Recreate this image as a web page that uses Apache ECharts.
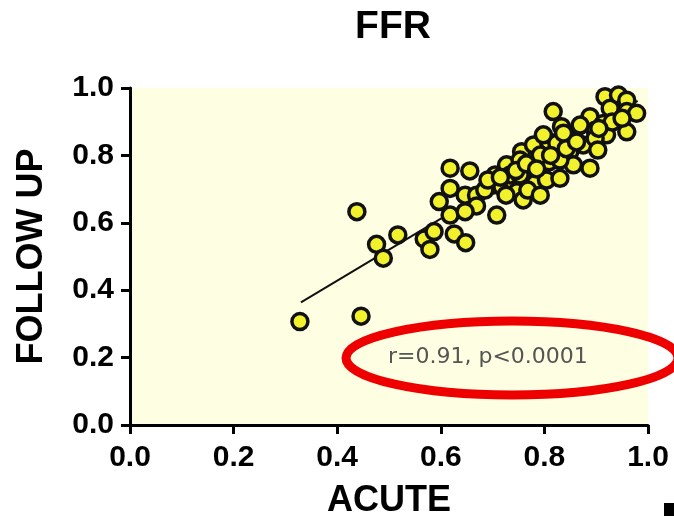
<!DOCTYPE html>
<html>
<head>
<meta charset="utf-8">
<script src="https://cdn.jsdelivr.net/npm/echarts@6/dist/echarts.min.js"></script>
<style>
  html, body { margin: 0; padding: 0; background: #fff; }
  #chart { width: 674px; height: 516px; }
</style>
</head>
<body>
<div id="chart"></div>
<script>
// acute FFR vs follow-up FFR
const acute = [
  0.328, 0.446, 0.438, 0.476, 0.489, 0.517, 0.568, 0.579, 0.587, 0.626,
  0.648, 0.618, 0.656, 0.618, 0.597, 0.647, 0.669, 0.669, 0.618, 0.647,
  0.708, 0.705, 0.727, 0.701, 0.718, 0.740, 0.747, 0.759, 0.756, 0.779,
  0.775, 0.782, 0.804, 0.808, 0.809, 0.830, 0.817, 0.833, 0.824, 0.846,
  0.849, 0.856, 0.888, 0.875, 0.888, 0.898, 0.914, 0.917, 0.927, 0.943,
  0.959, 0.959, 0.978, 0.959, 0.920, 0.898, 0.798, 0.837, 0.792, 0.753,
  0.734, 0.753, 0.768, 0.792, 0.726, 0.869, 0.903, 0.830, 0.931, 0.685,
  0.691, 0.715, 0.745, 0.765, 0.785, 0.812, 0.842, 0.862, 0.905, 0.950
];
const followUp = [
  0.307, 0.323, 0.633, 0.536, 0.495, 0.564, 0.552, 0.521, 0.574, 0.567,
  0.541, 0.762, 0.754, 0.702, 0.663, 0.682, 0.682, 0.650, 0.623, 0.633,
  0.623, 0.742, 0.772, 0.712, 0.707, 0.722, 0.692, 0.668, 0.811, 0.831,
  0.762, 0.717, 0.727, 0.841, 0.781, 0.732, 0.930, 0.885, 0.836, 0.851,
  0.811, 0.772, 0.762, 0.831, 0.915, 0.875, 0.895, 0.974, 0.940, 0.979,
  0.964, 0.930, 0.925, 0.870, 0.861, 0.851, 0.861, 0.866, 0.801, 0.786,
  0.742, 0.742, 0.697, 0.682, 0.682, 0.890, 0.816, 0.786, 0.899, 0.697,
  0.727, 0.735, 0.755, 0.775, 0.760, 0.800, 0.820, 0.840, 0.880, 0.910
];
// regression line end points
const fitX = [0.33, 0.98];
const fitY = [0.364, 0.962];

const points = acute.map((x, i) => [x, followUp[i]]);
const fit = fitX.map((x, i) => [x, fitY[i]]);

const font = 'Liberation Sans, Arial, sans-serif';
const chart = echarts.init(document.getElementById('chart'));

const axisCommon = {
  min: 0, max: 1, interval: 0.2,
  axisLine: { show: true, lineStyle: { color: '#000', width: 3 } },
  axisTick: { show: true, inside: false, length: 9, lineStyle: { color: '#000', width: 3 } },
  splitLine: { show: false },
  axisLabel: {
    color: '#000', fontSize: 30, fontWeight: 'bold', fontFamily: font,
    formatter: v => v.toFixed(1)
  },
  nameTextStyle: { color: '#000', fontSize: 36, fontWeight: 'bold', fontFamily: font }
};

chart.setOption({
  animation: false,
  title: {
    text: 'FFR', left: 388, top: 3, textAlign: 'center',
    textStyle: { fontSize: 39, fontWeight: 'bold', fontFamily: font, color: '#000' }
  },
  grid: {
    left: 130, right: 26, top: 88, bottom: 91,
    outerBoundsMode: 'none', containLabel: false,
    show: true, backgroundColor: '#fefee2', borderWidth: 0
  },
  xAxis: Object.assign({}, axisCommon, {
    type: 'value',
    name: 'ACUTE', nameLocation: 'middle', nameGap: 58,
    axisLabel: Object.assign({}, axisCommon.axisLabel, { margin: 18 })
  }),
  yAxis: Object.assign({}, axisCommon, {
    type: 'value',
    name: 'FOLLOW UP', nameLocation: 'middle', nameGap: 80,
    axisLabel: Object.assign({}, axisCommon.axisLabel, { margin: 16 })
  }),
  series: [
    {
      type: 'line', data: fit, symbol: 'none', z: 1,
      lineStyle: { color: '#111', width: 2 }
    },
    {
      type: 'scatter', data: points, symbol: 'circle', symbolSize: 16, z: 2,
      itemStyle: { color: '#f2f22c', borderColor: '#111', borderWidth: 3.5, opacity: 1 }
    }
  ],
  graphic: [
    {
      type: 'text', left: 388, top: 346, z: 10,
      style: { text: 'r=0.91, p<0.0001', fill: '#555', fontSize: 22, fontFamily: 'DejaVu Sans, sans-serif' }
    },
    {
      type: 'ellipse', z: 11,
      shape: { cx: 512, cy: 358, rx: 166, ry: 37 },
      style: { fill: 'none', stroke: '#ee0000', lineWidth: 9 }
    },
    {
      type: 'rect', z: 10,
      shape: { x: 664, y: 503, width: 10, height: 13 },
      style: { fill: '#000' }
    }
  ]
});
</script>
</body>
</html>
